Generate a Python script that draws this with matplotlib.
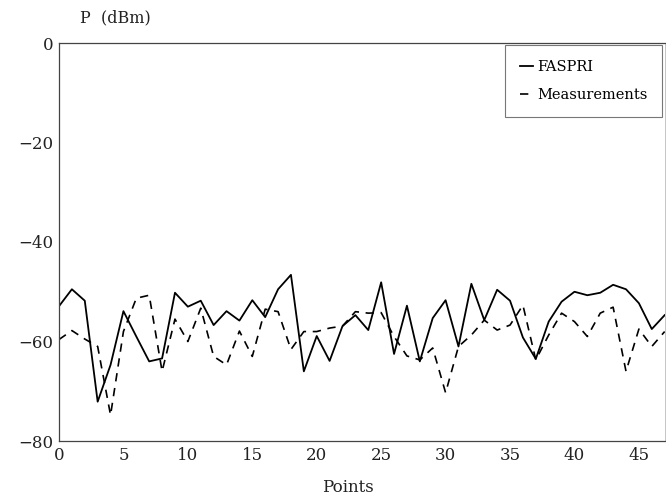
import matplotlib
matplotlib.use("Agg")
import matplotlib.pyplot as plt
import numpy as np

points = list(range(48))
faspri = [-52.9, -49.5, -51.8, -72.1, -64.7, -53.9, -59.0, -64.0, -63.4, -50.2,
          -53.0, -51.8, -56.7, -53.9, -55.8, -51.7, -55.1, -49.5, -46.6, -66.0,
          -58.9, -63.9, -56.9, -54.7, -57.7, -48.1, -62.5, -52.8, -64.0, -55.3,
          -51.7, -61.0, -48.4, -55.7, -49.6, -51.8, -59.2, -63.5, -56.0, -52.0,
          -50.0, -50.7, -50.2, -48.6, -49.5, -52.3, -57.5, -54.7]
measurements = [-59.6, -57.8, -59.5, -61.0, -74.8, -58.0, -51.3, -50.7, -66.0, -55.5,
                -60.0, -53.3, -63.0, -64.7, -57.9, -63.0, -53.5, -54.0, -61.6, -58.0,
                -58.0, -57.3, -56.9, -54.0, -54.3, -54.2, -59.0, -62.9, -63.7, -61.3,
                -70.3, -61.0, -58.7, -55.7, -57.7, -56.7, -52.7, -63.7, -58.7, -54.3,
                -56.0, -59.0, -54.3, -53.1, -66.0, -57.5, -61.0, -58.0]
xticks = [0, 5, 10, 15, 20, 25, 30, 35, 40, 45]
yticks = [0, -20, -40, -60, -80]

plt.rcParams['font.family'] = ['DejaVu Serif']
plt.rcParams['axes.unicode_minus'] = True

fig = plt.figure(figsize=(6.66, 5.0), dpi=100)
ax = fig.add_axes([59/666, 1-441/500, 1-59/666-0.002, (441-43)/500])

ax.plot(points, faspri, color='black', lw=1.3, linestyle='-', label='FASPRI')
ax.plot(points, measurements, color='black', lw=1.2, linestyle=(0, (5, 4)), label='Measurements')

ax.set_xlim(0, 47)
ax.set_ylim(-80, 0)
ax.set_xticks(xticks)
ax.set_yticks(yticks)
ax.set_yticklabels(['0', '\u221220', '\u221240', '\u221260', '\u221280'])
ax.tick_params(axis='both', length=0, labelsize=12, pad=4, colors='#222222')
for s in ['left', 'bottom', 'top']:
    ax.spines[s].set_linewidth(0.9)
    ax.spines[s].set_color('#444444')
ax.spines['right'].set_color('#bbbbbb')
ax.spines['right'].set_linewidth(0.6)

fig.text(80/666, 1-18/500, 'P  (dBm)', fontsize=11.5, ha='left', va='center', color='#222222')
fig.text(348/666, 1-487/500, 'Points', fontsize=12, ha='center', va='center', color='#222222')

leg = ax.legend(loc='upper right', bbox_to_anchor=(1.0, 1.0), fontsize=10.5,
                handlelength=0.9, handletextpad=0.3, frameon=True, fancybox=False,
                borderpad=1.0, labelspacing=1.0, borderaxespad=0.15)
leg.get_frame().set_edgecolor('#555555')
leg.get_frame().set_linewidth(0.8)

fig.savefig('out.png', dpi=100)
